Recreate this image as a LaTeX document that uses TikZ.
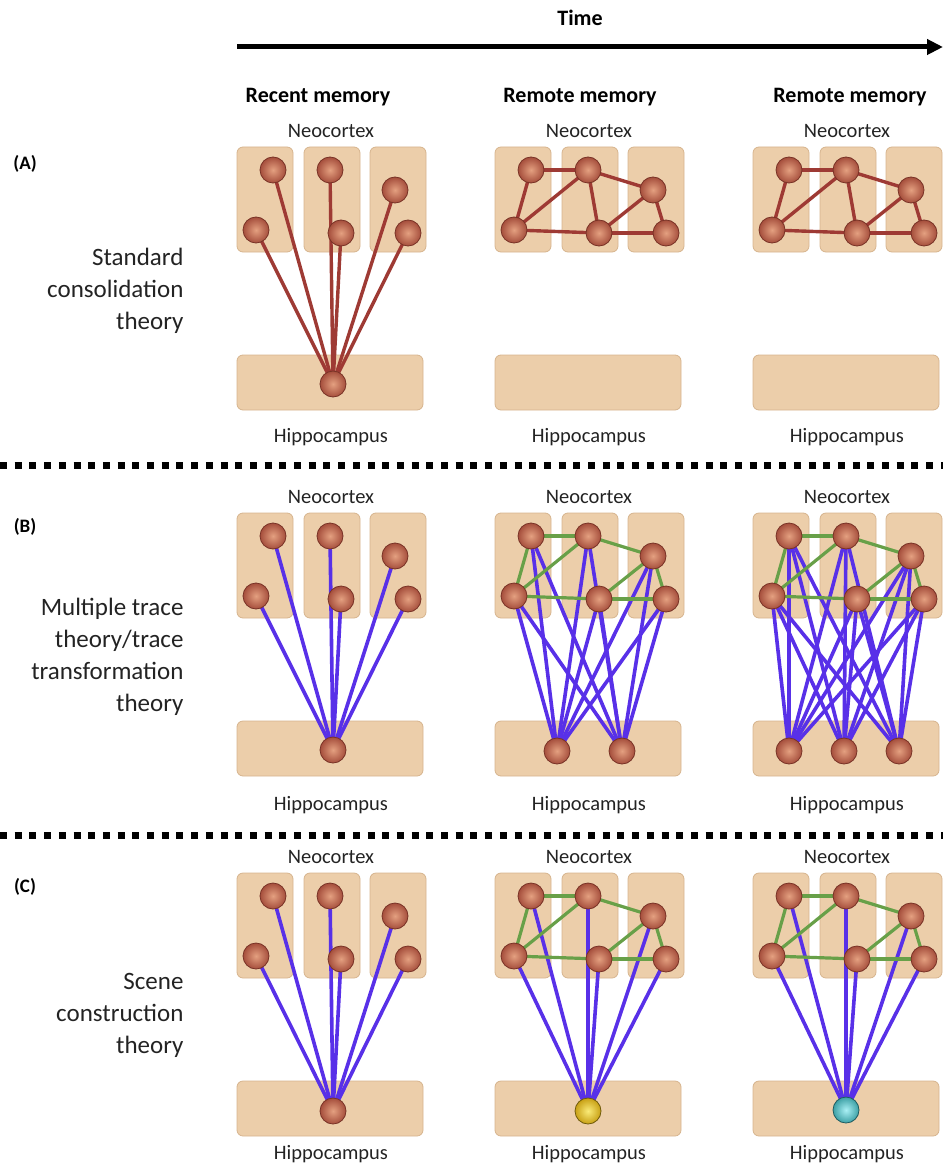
\documentclass[tikz,border=0pt]{standalone}
\usepackage{fontspec}
\setmainfont{Carlito}
\usetikzlibrary{arrows.meta}
\definecolor{boxfill}{RGB}{236,206,170}
\definecolor{boxedge}{RGB}{214,180,142}
\definecolor{brownline}{RGB}{158,58,52}
\definecolor{blueline}{RGB}{88,48,232}
\definecolor{greenline}{RGB}{104,160,72}
\definecolor{nin}{RGB}{228,160,128}
\definecolor{nout}{RGB}{165,78,60}
\definecolor{nedge}{RGB}{120,50,38}
\definecolor{yin}{RGB}{250,235,120}
\definecolor{yout}{RGB}{200,160,20}
\definecolor{yedge}{RGB}{110,90,10}
\definecolor{cin}{RGB}{170,240,245}
\definecolor{cout}{RGB}{60,160,165}
\definecolor{cedge}{RGB}{30,90,95}
\definecolor{txt}{RGB}{35,35,35}
\pgfdeclarelayer{bg}
\pgfdeclarelayer{mid}
\pgfsetlayers{bg,mid,main}
\tikzset{
  ctx/.style={draw=boxedge, fill=boxfill, rounded corners=6, line width=0.8},
  neuron/.style={circle, minimum size=26, inner sep=0, draw=nedge, line width=0.8, inner color=nin, outer color=nout},
  yneuron/.style={neuron, draw=yedge, inner color=yin, outer color=yout},
  cneuron/.style={neuron, draw=cedge, inner color=cin, outer color=cout},
  brownl/.style={draw=brownline, line width=3.4},
  bluel/.style={draw=blueline, line width=3.6},
  greenl/.style={draw=greenline, line width=3.2},
  lbl/.style={font=\fontsize{20.5}{24}\selectfont, text=txt},
  head/.style={font=\fontsize{22}{26}\selectfont\bfseries, text=black},
  grp/.style={font=\fontsize{19}{23}\selectfont\bfseries, text=black},
  theory/.style={font=\fontsize{25}{32}\selectfont, text=txt, align=right, anchor=east},
  sepline/.style={draw=black, line width=7, dash pattern=on 7 off 7.7},
}
\begin{document}
\begin{tikzpicture}[x=1pt,y=-1pt]
\useasboundingbox (0,0) rectangle (943,1169);
% header
\node[head] (time) at (580,18) {Time};
\coordinate (tS) at (237,47);
\coordinate (tE) at (943,47);
\draw[line width=5, -{Triangle[length=16,width=15]}] (tS) -- (tE);
\node[head] (h1) at (318,97) {Recent memory};
\node[head] (h2) at (580,97) {Remote memory};
\node[head] (h3) at (850,97) {Remote memory};
% separators
\coordinate (s1l) at (0,465); \coordinate (s1r) at (943,465);
\coordinate (s2l) at (0,835); \coordinate (s2r) at (943,835);
\draw[sepline] (s1l) -- (s1r);
\draw[sepline] (s2l) -- (s2r);
% group labels
\node[grp] (gA) at (25,164) {(A)};
\node[grp] (gB) at (25,527) {(B)};
\node[grp] (gC) at (25,887) {(C)};
\node[theory] (tA) at (187,291) {Standard\\consolidation\\theory};
\node[theory] (tB) at (187,657) {Multiple trace\\theory/trace\\transformation\\theory};
\node[theory] (tC) at (187,1015) {Scene\\construction\\theory};
% panels
\foreach \r/\dy/\hy in {A/0/437,B/366/805,C/726/1154} {
  \foreach \c/\x in {1/237,2/495,3/753} {
    \begin{pgfonlayer}{bg}
      \draw[ctx] (\x,147+\dy) rectangle ++(56,105);
      \draw[ctx] (\x+67,147+\dy) rectangle ++(56,105);
      \draw[ctx] (\x+133,147+\dy) rectangle ++(56,105);
      \draw[ctx] (\x,355+\dy) rectangle ++(186,55);
    \end{pgfonlayer}
    \node[lbl] (\r-\c-ncx) at (\x+94,131+\dy) {Neocortex};
    \node[lbl] (\r-\c-hpx) at (\x+94,\hy) {Hippocampus};
    \node[neuron] (\r-\c-a) at (\x+36,170+\dy) {};
    \node[neuron] (\r-\c-b) at (\x+93,170+\dy) {};
    \node[neuron] (\r-\c-c) at (\x+158,190+\dy) {};
    \node[neuron] (\r-\c-d) at (\x+19,230+\dy) {};
    \node[neuron] (\r-\c-e) at (\x+104,233+\dy) {};
    \node[neuron] (\r-\c-f) at (\x+171,233+\dy) {};
  }
}
% hippocampal neurons
\node[neuron] (A-1-h) at (333,384) {};
\node[neuron] (B-1-h) at (333,750) {};
\node[neuron] (C-1-h) at (333,1111) {};
\node[neuron] (B-2-h1) at (557,751) {};
\node[neuron] (B-2-h2) at (622,751) {};
\node[neuron] (B-3-h1) at (789,751) {};
\node[neuron] (B-3-h2) at (844,751) {};
\node[neuron] (B-3-h3) at (899,751) {};
\node[yneuron] (C-2-h) at (588,1111) {};
\node[cneuron] (C-3-h) at (846,1110) {};
% connections
\begin{pgfonlayer}{mid}
  \foreach \n in {a,b,c,d,e,f} {
    \draw[brownl] (A-1-\n.center) -- (A-1-h.center);
    \draw[bluel] (B-1-\n.center) -- (B-1-h.center);
    \draw[bluel] (C-1-\n.center) -- (C-1-h.center);
    \draw[bluel] (C-2-\n.center) -- (C-2-h.center);
    \draw[bluel] (C-3-\n.center) -- (C-3-h.center);
    \foreach \h in {h1,h2} {
      \draw[bluel] (B-2-\n.center) -- (B-2-\h.center);
    }
    \foreach \h in {h1,h2,h3} {
      \draw[bluel] (B-3-\n.center) -- (B-3-\h.center);
    }
  }
  \foreach \c in {2,3} {
    \foreach \u/\v in {a/b,a/d,b/d,b/e,b/c,c/e,c/f,d/e,e/f} {
      \draw[brownl] (A-\c-\u.center) -- (A-\c-\v.center);
    }
    \foreach \r in {B,C} {
      \foreach \u/\v in {a/b,a/d,b/d,b/c,c/e,c/f,d/e,e/f} {
        \draw[greenl] (\r-\c-\u.center) -- (\r-\c-\v.center);
      }
    }
  }
\end{pgfonlayer}
\end{tikzpicture}
\end{document}
